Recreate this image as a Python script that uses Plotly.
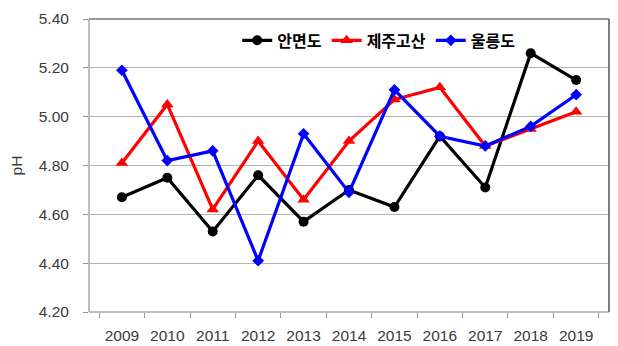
import plotly.graph_objects as go

years = ["2009", "2010", "2011", "2012", "2013", "2014", "2015", "2016", "2017", "2018", "2019"]
anmyeondo = [4.67, 4.75, 4.53, 4.76, 4.57, 4.70, 4.63, 4.92, 4.71, 5.26, 5.15]
jeju_gosan = [4.81, 5.05, 4.62, 4.90, 4.66, 4.90, 5.07, 5.12, 4.88, 4.95, 5.02]
ulleungdo = [5.19, 4.82, 4.86, 4.41, 4.93, 4.69, 5.11, 4.92, 4.88, 4.96, 5.09]

series = [
    ("안면도", anmyeondo, "#000000", "circle", 10),
    ("제주고산", jeju_gosan, "#ff0000", "triangle-up", 11),
    ("울릉도", ulleungdo, "#0000ff", "diamond", 9),
]

fig = go.Figure()
for name, vals, color, symbol, size in series:
    fig.add_trace(go.Scatter(
        x=years, y=vals, name=name, mode="lines+markers",
        line=dict(color=color, width=3.2),
        marker=dict(symbol=symbol, size=size, color=color),
    ))

tick_font = dict(family="Liberation Sans, Arial, sans-serif", size=15.5, color="#3a3a3a")

fig.update_layout(
    width=618, height=346,
    margin=dict(l=89, r=9, t=19, b=34),
    paper_bgcolor="white", plot_bgcolor="white",
    showlegend=True,
    legend=dict(
        orientation="h", x=0.285, y=0.985, xanchor="left", yanchor="top",
        bgcolor="rgba(0,0,0,0)",
        font=dict(family="Noto Sans CJK KR, sans-serif", size=16, color="#000000", weight="bold"),
        itemwidth=30, tracegroupgap=0,
    ),
    xaxis=dict(
        type="category", tickson="boundaries", ticks="outside", ticklen=5,
        tickcolor="#999999", showline=False, showgrid=False, automargin=False,
        tickfont=tick_font, zeroline=False, ticklabelstandoff=12,
    ),
    yaxis=dict(
        range=[4.2, 5.4], dtick=0.2, tick0=4.2, tickformat=".2f",
        ticks="outside", ticklen=5, tickcolor="#999999", automargin=False,
        showgrid=True, gridcolor="#b3b3b3", gridwidth=1,
        showline=False, zeroline=False, tickfont=tick_font,
        ticklabelstandoff=11,
        title=dict(text="pH", font=tick_font, standoff=12),
    ),
    shapes=[
        dict(type="line", xref="paper", yref="paper", x0=0, x1=0, y0=0, y1=1,
             line=dict(color="#aaaaaa", width=1.5)),
        dict(type="line", xref="paper", yref="paper", x0=0, x1=1, y0=0, y1=0,
             line=dict(color="#aaaaaa", width=1.5)),
        dict(type="line", xref="paper", yref="paper", x0=0, x1=1, y0=1, y1=1,
             line=dict(color="#777777", width=1.5)),
        dict(type="line", xref="paper", yref="paper", x0=1, x1=1, y0=0, y1=1,
             line=dict(color="#555555", width=1.5)),
    ],
)

fig.write_html("out.html")
